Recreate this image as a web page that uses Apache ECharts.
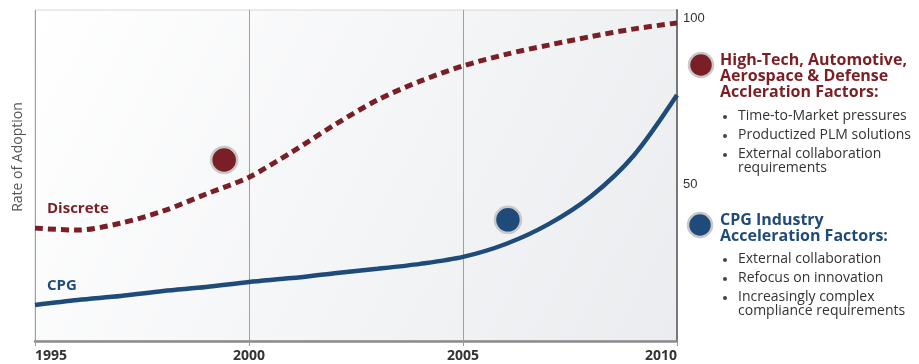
<!DOCTYPE html>
<html>
<head>
<meta charset="utf-8">
<script src="https://cdn.jsdelivr.net/npm/echarts@6/dist/echarts.min.js"></script>
<style>
  html, body { margin: 0; padding: 0; background: #fff; }
  #chart { width: 919px; height: 364px; }
</style>
</head>
<body>
<div id="chart"></div>
<script>
const years = [1995, 1996, 1997, 1998, 1999, 2000, 2001, 2002, 2003, 2004, 2005, 2006, 2007, 2008, 2009, 2010]
const discrete = [34.1, 33.5, 35.6, 39.3, 44.4, 49.5, 57.1, 65.3, 72.8, 78.5, 83.1, 86.6, 89.4, 92.0, 94.3, 96.1]
const cpg = [10.9, 12.4, 13.6, 15.1, 16.3, 17.8, 19.0, 20.5, 21.8, 23.3, 25.4, 29.3, 35.3, 43.8, 56.2, 74.3]
const markers = [[1999.42, 54.7], [2006.05, 36.6]]
const yTicks = [0, 50, 100]

const hiTechTitle = ['High-Tech, Automotive,', 'Aerospace & Defense', 'Accleration Factors:']
const hiTechItems = ['Time-to-Market pressures', 'Productized PLM solutions', 'External collaboration\nrequirements']
const cpgTitle = ['CPG Industry', 'Acceleration Factors:']
const cpgItems = ['External collaboration', 'Refocus on innovation', 'Increasingly complex\ncompliance requirements']

const RED = '#7a1f25'
const BLUE = '#1f4b7a'
const FONT = '"Open Sans", "DejaVu Sans", sans-serif'

const chart = echarts.init(document.getElementById('chart'))

function bullets (items, top) {
  const out = []
  let y = top
  items.forEach(t => {
    out.push({ type: 'circle', shape: { cx: 725, cy: y - 1, r: 2 }, style: { fill: '#444' } })
    out.push({
      type: 'text', left: 738, top: y - 9,
      style: { text: t, font: '14px ' + FONT, fill: '#333', lineHeight: 14 }
    })
    y += t.includes('\n') ? 33 : 19
  })
  return out
}

const options = {
  backgroundColor: '#fff',
  animation: false,
  grid: {
    left: 35, right: 242, top: 10, bottom: 23,
    show: true,
    borderColor: '#d8d8d8',
    borderWidth: 1,
    backgroundColor: new echarts.graphic.LinearGradient(0, 0, 1, 1, [
      { offset: 0, color: '#ffffff' },
      { offset: 1, color: '#eaecef' }
    ])
  },
  xAxis: {
    type: 'value',
    min: 1995, max: 2010, interval: 5,
    axisLine: { show: true, onZero: false, lineStyle: { color: '#8a8a8a', width: 2.5 } },
    axisTick: { show: true, length: 5, lineStyle: { color: '#9a9a9a' } },
    splitLine: { show: true, lineStyle: { color: '#a0a0a0', width: 1 } },
    axisLabel: {
      color: '#333', fontSize: 14, fontWeight: 'bold', fontFamily: FONT, margin: 8,
      alignMinLabel: 'left', alignMaxLabel: 'right',
      formatter: v => String(v)
    }
  },
  yAxis: {
    type: 'value',
    position: 'right',
    min: yTicks[0], max: yTicks[2], interval: 50,
    axisLine: { show: true, lineStyle: { color: '#777', width: 2 } },
    axisTick: { show: false },
    splitLine: { show: false },
    axisLabel: {
      showMinLabel: false,
      color: '#333', fontSize: 13, fontFamily: 'Liberation Sans, Arial, sans-serif',
      margin: 6, verticalAlign: 'top', padding: [2, 0, 0, 0]
    }
  },
  series: [
    {
      name: 'Discrete',
      type: 'line',
      smooth: 0.3,
      symbol: 'none',
      data: years.map((y, i) => [y, discrete[i]]),
      lineStyle: { color: RED, width: 5, type: [8, 5], cap: 'butt' },
      z: 3
    },
    {
      name: 'CPG',
      type: 'line',
      smooth: 0.3,
      symbol: 'none',
      data: years.map((y, i) => [y, cpg[i]]),
      lineStyle: { color: BLUE, width: 4.5 },
      z: 3
    },
    {
      type: 'scatter',
      symbolSize: 26,
      data: [
        { value: markers[0], itemStyle: { color: RED } },
        { value: markers[1], itemStyle: { color: BLUE } }
      ],
      itemStyle: { borderColor: '#c8c8c8', borderWidth: 2.5, opacity: 1 },
      z: 4
    }
  ],
  graphic: [
    {
      type: 'text', x: 18, y: 157, rotation: Math.PI / 2,
      style: { text: 'Rate of Adoption', font: '14px ' + FONT, fill: '#555', align: 'center', verticalAlign: 'middle' }
    },
    {
      type: 'text', left: 47, top: 201,
      style: { text: 'Discrete', font: 'bold 15px ' + FONT, fill: RED }
    },
    {
      type: 'text', left: 47, top: 278,
      style: { text: 'CPG', font: 'bold 15px ' + FONT, fill: BLUE }
    },
    {
      type: 'circle', shape: { cx: 701, cy: 65, r: 12 },
      style: { fill: RED, stroke: '#c8c8c8', lineWidth: 2.5 }
    },
    {
      type: 'text', left: 720, top: 52,
      style: { text: hiTechTitle.join('\n'), font: 'bold 16px ' + FONT, fill: RED, lineHeight: 16 }
    },
    ...bullets(hiTechItems, 118),
    {
      type: 'circle', shape: { cx: 700, cy: 225, r: 12 },
      style: { fill: BLUE, stroke: '#c8c8c8', lineWidth: 2.5 }
    },
    {
      type: 'text', left: 720, top: 212,
      style: { text: cpgTitle.join('\n'), font: 'bold 16px ' + FONT, fill: BLUE, lineHeight: 16 }
    },
    ...bullets(cpgItems, 261)
  ]
}

chart.setOption(options)
</script>
</body>
</html>
